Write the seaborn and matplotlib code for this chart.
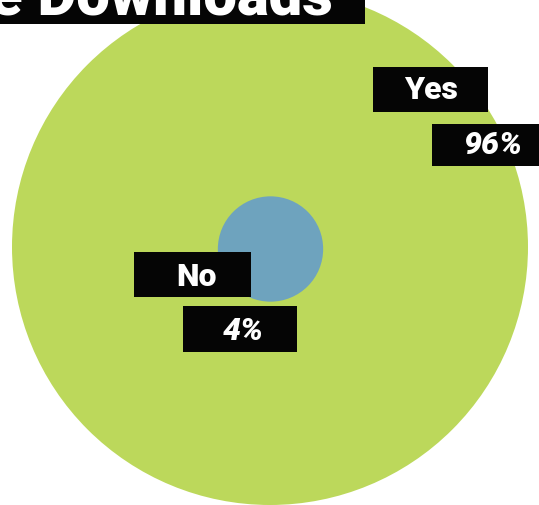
import numpy as np
import pandas as pd
import seaborn as sns
import matplotlib.pyplot as plt
from matplotlib.patches import Rectangle

answers = ["Yes", "No"]
shares = [96, 4]
share_labels = ["96%", "4%"]
colors = {"Yes": "#BCD85B", "No": "#6EA3BE"}
title = "e Downloads"

W, H = 539, 506
DPI = 100

sns.set_theme(style="white")
plt.rcParams["font.family"] = ["Roboto", "DejaVu Sans"]

fig = plt.figure(figsize=(W / DPI, H / DPI), dpi=DPI)
ax = fig.add_axes([0, 0, 1, 1])
ax.set_xlim(0, W)
ax.set_ylim(H, 0)
ax.set_aspect("equal")
ax.axis("off")

# circle areas proportional to the shares, all centred on one point
R_MAX = 258.0
cx, cy = 270.0, 249.0
radii = [R_MAX * np.sqrt(v / max(shares)) for v in shares]
px_to_pt = 72.0 / DPI
df = pd.DataFrame({"answer": answers, "share": shares,
                   "x": [cx, cx + 0.5], "y": [cy - 1, cy + 1]})
sizes = {a: (2 * r * px_to_pt) ** 2 for a, r in zip(answers, radii)}

sns.scatterplot(data=df, x="x", y="y", hue="answer", palette=colors,
                size="answer", sizes=sizes, linewidth=0, legend=False,
                ax=ax, zorder=1)


def tag(x0, y0, w, h, text, tx, ty, size, style="normal"):
    ax.add_patch(Rectangle((x0, y0), w, h, facecolor="#050505",
                           edgecolor="none", zorder=3))
    ax.text(tx, ty, text, color="white", fontsize=size, fontweight="heavy",
            fontstyle=style, ha="center", va="center", zorder=4)


# title banner, running off the top-left corner
ax.add_patch(Rectangle((0, 0), 365, 25, facecolor="#050505",
                       edgecolor="none", zorder=3))
ax.text(-10, 14, title, color="white", fontsize=43, fontweight="black",
        ha="left", va="baseline", zorder=4)

tag(373, 68, 115, 45, answers[0], 431, 90, 23)
tag(432, 125, 110, 42, share_labels[0], 493, 145, 23, "italic")
tag(134, 253, 117, 45, answers[1], 196, 277, 23)
tag(183, 307, 114, 46, share_labels[1], 243, 331, 23, "italic")

fig.savefig("out.png", dpi=DPI, facecolor="white")
